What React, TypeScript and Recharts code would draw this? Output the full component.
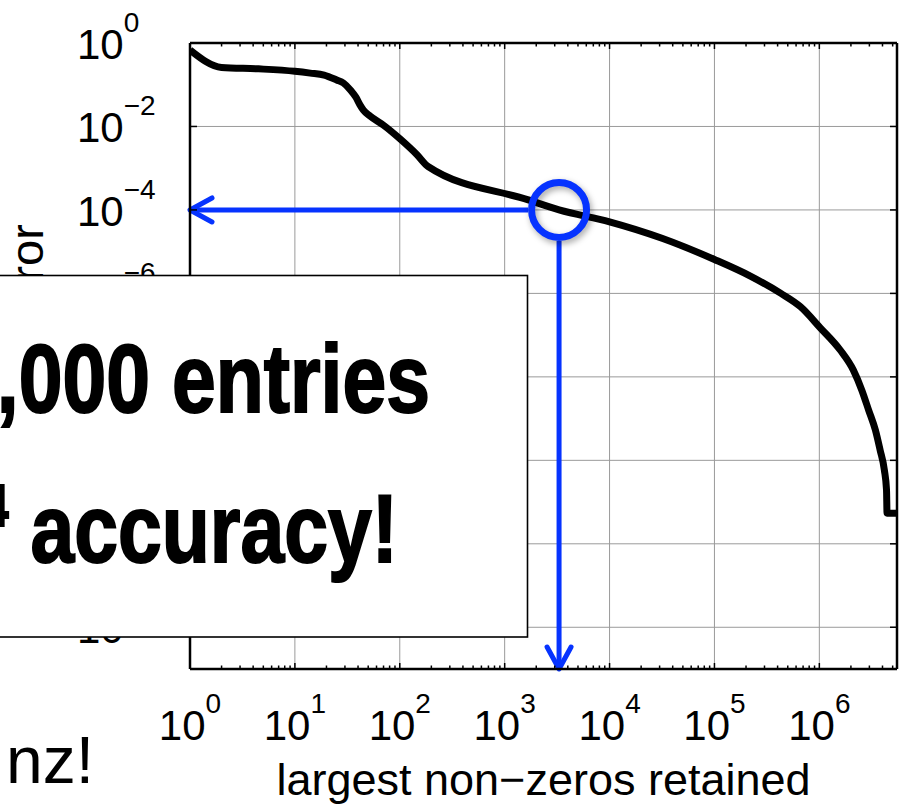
import React from 'react';
import {
  LineChart,
  Line,
  XAxis,
  YAxis,
  CartesianGrid,
  ReferenceLine,
  ReferenceDot,
} from 'recharts';

// error curve (nnz retained vs relative error)
const NNZ = [
  1, 2, 4.5, 10, 14, 19, 25, 29, 34, 38, 42, 45, 52, 70, 100, 146, 186, 1680,
  3300, 10000, 31600, 100000, 220000, 430000, 660000, 1020000, 1580000,
  2110000, 2540000, 2950000, 3430000, 3800000, 4170000, 4370000, 4420000,
  5500000,
];
const ERR = [
  0.68, 0.26, 0.24, 0.21, 0.19, 0.17, 0.13, 0.11, 0.074, 0.051, 0.032, 0.0245,
  0.0178, 0.0107, 0.0051, 0.0021, 0.0011, 1.74e-4, 1.0e-4, 5.2e-5, 2.1e-5,
  6.5e-6, 2.6e-6, 1.0e-6, 4.8e-7, 1.5e-7, 4.4e-8, 1.45e-8, 4.8e-9, 1.6e-9,
  5.2e-10, 1.74e-10, 5.8e-11, 1.95e-11, 5.4e-12, 5.4e-12,
];

const X_MAJOR = [1, 10, 100, 1e3, 1e4, 1e5, 1e6];
const Y_MAJOR = [1, 1e-2, 1e-4, 1e-6, 1e-8, 1e-10, 1e-12, 1e-14];
const X_DOMAIN = [1, 5.5e6];
const Y_DOMAIN = [1e-15, 1];

// highlighted point
const TARGET_NNZ = 3300;
const TARGET_ERR = 1e-4;

const BLUE = '#0633ff';
const FONT = "'Liberation Sans', Arial, Helvetica, sans-serif";
const RING_R = 27.5;
const RING_W = 7;
const SQUEEZE = 0.82; // fake a condensed face

const data = NNZ.map((nnz, i) => ({ nnz, err: ERR[i] }));

const X_MINOR = X_MAJOR.flatMap((d) => [2, 3, 4, 5, 6, 7, 8, 9].map((m) => m * d)).filter(
  (v) => v < X_DOMAIN[1]
);
const X_ALL = [...X_MAJOR, ...X_MINOR].sort((a, b) => a - b);

const isMajor = (v: number) => Math.abs(Math.log10(v) - Math.round(Math.log10(v))) < 1e-9;
const expText = (v: number) => {
  const e = Math.round(Math.log10(v));
  return e < 0 ? `\u2212${-e}` : `${e}`;
};

function BottomTick({ x, y, payload }: any) {
  const v = payload.value;
  const major = isMajor(v);
  return (
    <g>
      <line x1={x} y1={y} x2={x} y2={y - (major ? 6 : 3.5)} stroke="#000" strokeWidth={1.5} />
      {major && (
        <text x={x} y={y + 71} textAnchor="middle" fontFamily={FONT} fontSize={42} fill="#000">
          10
          <tspan dy={-27} fontSize={28}>
            {expText(v)}
          </tspan>
        </text>
      )}
    </g>
  );
}

function TopTick({ x, y, payload }: any) {
  const major = isMajor(payload.value);
  return <line x1={x} y1={y} x2={x} y2={y + (major ? 6 : 3.5)} stroke="#000" strokeWidth={1.5} />;
}

function LeftTick({ x, y, payload }: any) {
  return (
    <g>
      <line x1={x} y1={y} x2={x + 7} y2={y} stroke="#000" strokeWidth={1.5} />
      <text x={x - 113} y={y + 16} textAnchor="start" fontFamily={FONT} fontSize={42} fill="#000">
        10
        <tspan dy={-27} fontSize={28}>
          {expText(payload.value)}
        </tspan>
      </text>
    </g>
  );
}

function RightTick({ x, y }: any) {
  return <line x1={x} y1={y} x2={x - 7} y2={y} stroke="#000" strokeWidth={1.5} />;
}

function YLabel({ viewBox }: any) {
  const cy = viewBox.y + viewBox.height / 2;
  return (
    <text
      transform={`translate(43, ${cy}) rotate(-90)`}
      textAnchor="middle"
      fontFamily={FONT}
      fontSize={47}
      fill="#000"
    >
      relative error
    </text>
  );
}

function XLabel({ viewBox }: any) {
  return (
    <text
      x={viewBox.x + viewBox.width / 2}
      y={viewBox.y + 126}
      textAnchor="middle"
      fontFamily={FONT}
      fontSize={45}
      fill="#000"
    >
      largest non{'\u2212'}zeros retained
    </text>
  );
}

// line leaving the ring, ending in an open arrow head
function Arrow({ x1, y1, x2, y2 }: any) {
  const len = Math.hypot(x2 - x1, y2 - y1) || 1;
  const ux = (x2 - x1) / len;
  const uy = (y2 - y1) / len;
  const off = RING_R + RING_W / 2;
  const bx = x2 - ux * 22;
  const by = y2 - uy * 22;
  const px = -uy * 12;
  const py = ux * 12;
  return (
    <g stroke={BLUE} strokeWidth={5} fill="none" strokeLinecap="round" strokeLinejoin="round">
      <line x1={x1 + ux * off} y1={y1 + uy * off} x2={x2} y2={y2} strokeLinecap="butt" />
      <polyline points={`${bx + px},${by + py} ${x2},${y2} ${bx - px},${by - py}`} />
    </g>
  );
}

const calloutText = {
  fontFamily: FONT,
  fontWeight: 'bold' as const,
  fontSize: 96,
  fill: '#000',
  stroke: '#000',
  strokeWidth: 2,
};

export default function App() {
  return (
    <div style={{ position: 'absolute', left: 0, top: 0, width: 899, height: 804, overflow: 'hidden', background: '#fff' }}>
      <LineChart width={899} height={804} data={data} margin={{ top: 42, right: 1, bottom: 0, left: 0 }}>
        <CartesianGrid stroke="#9a9a9a" strokeWidth={1} verticalValues={X_MAJOR} horizontalValues={Y_MAJOR} />
        <XAxis
          dataKey="nnz"
          type="number"
          scale="log"
          domain={X_DOMAIN}
          allowDataOverflow
          ticks={X_ALL}
          interval={0}
          height={135}
          tickLine={false}
          tickSize={0}
          tickMargin={0}
          axisLine={{ stroke: '#000', strokeWidth: 2.5 }}
          tick={<BottomTick />}
          label={(p: any) => <XLabel {...p} />}
        />
        <XAxis
          xAxisId="top"
          orientation="top"
          dataKey="nnz"
          type="number"
          scale="log"
          domain={X_DOMAIN}
          allowDataOverflow
          ticks={X_ALL}
          interval={0}
          height={1}
          tickLine={false}
          tickSize={0}
          tickMargin={0}
          axisLine={{ stroke: '#000', strokeWidth: 2.5 }}
          tick={<TopTick />}
        />
        <YAxis
          type="number"
          scale="log"
          domain={Y_DOMAIN}
          allowDataOverflow
          ticks={Y_MAJOR}
          interval={0}
          width={190}
          tickLine={false}
          tickSize={0}
          tickMargin={0}
          axisLine={{ stroke: '#000', strokeWidth: 2.5 }}
          tick={<LeftTick />}
          label={(p: any) => <YLabel {...p} />}
        />
        <YAxis
          yAxisId="right"
          orientation="right"
          type="number"
          scale="log"
          domain={Y_DOMAIN}
          allowDataOverflow
          ticks={Y_MAJOR}
          interval={0}
          width={1}
          tickLine={false}
          tickSize={0}
          tickMargin={0}
          axisLine={{ stroke: '#000', strokeWidth: 2.5 }}
          tick={<RightTick />}
        />
        <Line
          dataKey="err"
          type="monotone"
          stroke="#000"
          strokeWidth={7}
          strokeLinejoin="round"
          dot={false}
          isAnimationActive={false}
        />
        <ReferenceLine
          segment={[
            { x: TARGET_NNZ, y: TARGET_ERR },
            { x: X_DOMAIN[0], y: TARGET_ERR },
          ]}
          shape={(p: any) => <Arrow {...p} />}
        />
        <ReferenceLine
          segment={[
            { x: TARGET_NNZ, y: TARGET_ERR },
            { x: TARGET_NNZ, y: Y_DOMAIN[0] },
          ]}
          shape={(p: any) => <Arrow {...p} />}
        />
        <ReferenceDot
          x={TARGET_NNZ}
          y={TARGET_ERR}
          r={RING_R}
          shape={(p: any) => (
            <circle
              cx={p.cx}
              cy={p.cy}
              r={RING_R}
              fill="none"
              stroke={BLUE}
              strokeWidth={RING_W}
              style={{ filter: 'drop-shadow(2px 3px 3px rgba(0,0,0,0.35))' }}
            />
          )}
        />
      </LineChart>

      {/* callout box laid over the chart */}
      <svg width={899} height={804} style={{ position: 'absolute', left: 0, top: 0, pointerEvents: 'none' }}>
        <rect x={-10} y={275.5} width={537.5} height={361.5} fill="#fff" stroke="#000" strokeWidth={1.6} />
        <g transform={`translate(430, 412) scale(${SQUEEZE}, 1)`}>
          <text x={0} y={0} textAnchor="end" {...calloutText}>
            Only 3,000 entries
          </text>
        </g>
        <g transform={`translate(398, 562) scale(${SQUEEZE}, 1)`}>
          <text x={0} y={0} textAnchor="end" {...calloutText}>
            for 10
            <tspan dy={-36} fontSize={60}>
              {'\u2212'}4
            </tspan>
            <tspan dy={36}> accuracy!</tspan>
          </text>
        </g>
        <text x={6} y={783} fontFamily={FONT} fontSize={66} fill="#000">
          nz!
        </text>
      </svg>
    </div>
  );
}
